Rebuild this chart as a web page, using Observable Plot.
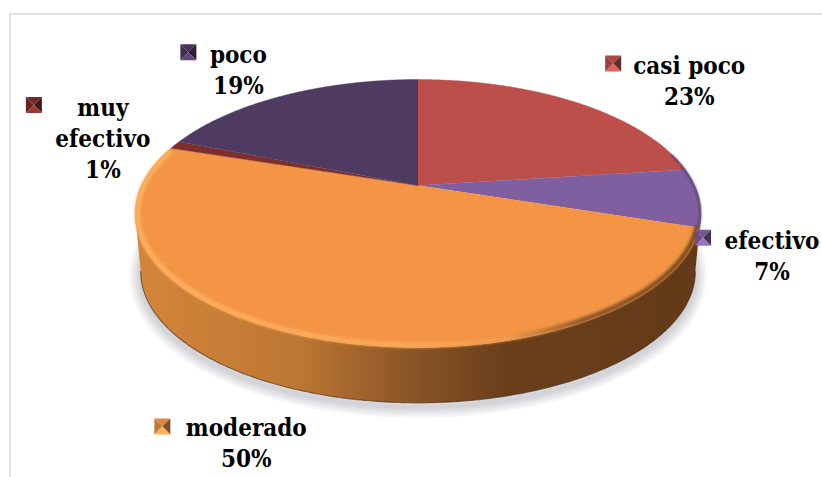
<!DOCTYPE html>
<html lang="es">
<head>
<meta charset="utf-8">
<script src="https://cdn.jsdelivr.net/npm/d3@7"></script>
<script src="https://cdn.jsdelivr.net/npm/@observablehq/plot@0.6"></script>
<style>
  html, body { margin: 0; padding: 0; background: #fff; overflow: hidden; }
  #frame { position: absolute; left: 9px; top: 13px; right: 0; bottom: 0;
           border-left: 2px solid #e2e2e2; border-top: 2px solid #e2e2e2; }
  #chart { position: absolute; left: 0; top: 0; }
  #chart svg { background: transparent; display: block; }
</style>
</head>
<body>
<div id="frame"></div>
<div id="chart"></div>
<script>
// Data, clockwise from twelve o'clock
const categories = ["casi poco", "efectivo", "moderado", "muy efectivo", "poco"];
const percents = [23, 7, 50, 1, 19];
const sliceColors = ["#bd4f4b", "#7f5f9f", "#f39545", "#7f2f2b", "#4f3a61"];
const labelLines = [["casi poco"], ["efectivo"], ["moderado"], ["muy", "efectivo"], ["poco"]];

// Layout: label offsets measured from each wedge's mid-rim point
const markerOffsets = [[37, -39], [4, 40], [-149, 89], [-141, -40], [-97, -43]];
const textOffsets = [[113, -28], [73, 51], [-65, 98], [-72, -29], [-47, -32]];
const lineStep = 31;
const markerHalf = 8;

// Perspective view of the pie disc
const view = {cx: 417.5, cy: 185, kx: 276.7, ky: 128.15, c: -0.209};
const wall = {scale: 0.98, cyTop: 213, cyBottom: 271};

const project = (pct) => {
  const a = pct / 100 * 2 * Math.PI;
  const u = Math.sin(a), v = -Math.cos(a);
  const d = 1 + view.c * v;
  return [view.cx + view.kx * u / d, view.cy + view.ky * v / d];
};
const lower = ([x, y]) => [view.cx + (x - view.cx) * wall.scale,
                           wall.cyBottom + (y - wall.cyTop) * wall.scale];
const arc = (from, to, stepPct = 0.2) => {
  const n = Math.max(2, Math.ceil((to - from) / stepPct));
  return d3.range(n + 1).map(i => project(from + (to - from) * i / n));
};
const inset = ([x, y], by) => {
  const ex = (x - view.cx) / 283, ey = (y - wall.cyTop) / 134;
  const len = Math.hypot(ex, ey) || 1;
  return [x - ex / len * by, y - ey / len * by];
};

// Wedges
const starts = d3.cumsum([0, ...percents]);
const slices = categories.map((name, i) => ({
  name, color: sliceColors[i], from: starts[i], to: starts[i + 1], mid: (starts[i] + starts[i + 1]) / 2
}));
const wedgePts = slices.flatMap(s =>
  [[view.cx, view.cy], ...arc(s.from, s.to)].map(([x, y]) => ({x, y, name: s.name, color: s.color})));

// Rim pieces: percent positions of the disc's tangents (right and left extremes)
const rightT = 25 + 100 * Math.asin(-view.c) / (2 * Math.PI);
const leftT = 75 - 100 * Math.asin(-view.c) / (2 * Math.PI);
const frontTop = arc(rightT, leftT);
const frontBottom = frontTop.map(p => lower(p));
const wallPts = [...frontBottom, ...frontTop.slice().reverse()].map(([x, y]) => ({x, y}));
const shadowPts = arc(0, 100).map(p => lower(p)).map(([x, y]) => ({x, y: y + 4}));
const rimPts = arc(30, 79.5).map(p => inset(p, 2.5)).map(([x, y]) => ({x, y}));
const darkRimPts = arc(21, 30).map(p => inset(p, 0.8)).map(([x, y]) => ({x, y}));
const bottomEdgePts = frontBottom.map(([x, y]) => ({x, y}));

// Legend keys: four shaded facets round each key's centre
const mid = slices.map(s => project(s.mid));
const facets = slices.flatMap((s, i) => {
  const cx = mid[i][0] + markerOffsets[i][0], cy = mid[i][1] + markerOffsets[i][1], h = markerHalf;
  const c = d3.color(s.color);
  const tl = [cx - h, cy - h], tr = [cx + h, cy - h], br = [cx + h, cy + h], bl = [cx - h, cy + h], m = [cx, cy];
  const faces = [
    {pts: [tl, tr, m], color: c.darker(0.25).formatHex()},
    {pts: [tl, bl, m], color: c.darker(0.6).formatHex()},
    {pts: [tr, br, m], color: c.darker(1.8).formatHex()},
    {pts: [bl, br, m], color: c.brighter(0.5).formatHex()}
  ];
  return faces.flatMap((f, j) => f.pts.map(([x, y]) => ({x, y, id: `${i}-${j}`, color: f.color})));
});

// Labels
const labels = slices.flatMap((s, i) => {
  const x = mid[i][0] + textOffsets[i][0], y = mid[i][1] + textOffsets[i][1];
  const lines = [...labelLines[i], `${percents[i]}%`];
  return lines.map((text, j) => ({x, y: y + j * lineStep, text}));
});

const gradients = () => {
  const ns = "http://www.w3.org/2000/svg";
  const defs = document.createElementNS(ns, "defs");
  const grad = (id, stops) => {
    const g = document.createElementNS(ns, "linearGradient");
    g.setAttribute("id", id);
    g.setAttribute("x1", "0"); g.setAttribute("x2", "1");
    g.setAttribute("y1", "0"); g.setAttribute("y2", "0");
    for (const [o, c] of stops) {
      const st = document.createElementNS(ns, "stop");
      st.setAttribute("offset", o); st.setAttribute("stop-color", c);
      g.appendChild(st);
    }
    defs.appendChild(g);
  };
  grad("wallFill", [[0, "#d4853a"], [0.29, "#bd7733"], [0.48, "#8c5627"], [0.65, "#6a3f1c"], [1, "#633a18"]]);
  grad("rimStroke", [[0, "#fdb061"], [0.5, "#faa858"], [0.66, "#f09a4c"], [0.8, "#8a5526"], [1, "#7a4a20"]]);
  return defs;
};

// Soft shadow as stacked translucent halos
const shadowLayers = [22, 17, 12, 8, 4].map(w =>
  Plot.line(shadowPts, {x: "x", y: "y", stroke: "#8f9098", strokeOpacity: 0.09, strokeWidth: w}));

const plot = Plot.plot({
  width: 822, height: 477, margin: 0,
  x: {domain: [0, 822], range: [0, 822], axis: null},
  y: {domain: [0, 477], range: [0, 477], axis: null},
  color: {type: "identity"},
  marks: [
    gradients,
    ...shadowLayers,
    Plot.line(wallPts, {x: "x", y: "y", fill: "url(#wallFill)", stroke: "none"}),
    Plot.line(bottomEdgePts, {x: "x", y: "y", stroke: "#4a2a10", strokeOpacity: 0.6, strokeWidth: 1.2, imageFilter: "blur(0.6px)"}),
    Plot.line(wedgePts, {x: "x", y: "y", z: "name", fill: "color", stroke: "color", strokeWidth: 0.4}),
    Plot.line(darkRimPts, {x: "x", y: "y", stroke: "#4f3a66", strokeWidth: 2, strokeOpacity: 0.8, imageFilter: "blur(0.8px)"}),
    Plot.line(rimPts, {x: "x", y: "y", stroke: "url(#rimStroke)", strokeWidth: 5, imageFilter: "blur(1.5px)"}),
    Plot.line(facets, {x: "x", y: "y", z: "id", fill: "color", stroke: "none", imageFilter: "blur(0.5px)"}),
    Plot.text(labels, {
      x: "x", y: "y", text: "text", textAnchor: "middle", lineAnchor: "bottom",
      fill: "#000", fontSize: 24, fontWeight: 700, fontFamily: "'DejaVu Serif Condensed', 'DejaVu Serif', serif",
      style: "font-stretch: condensed"
    })
  ]
});
document.getElementById("chart").appendChild(plot);
</script>
</body>
</html>
